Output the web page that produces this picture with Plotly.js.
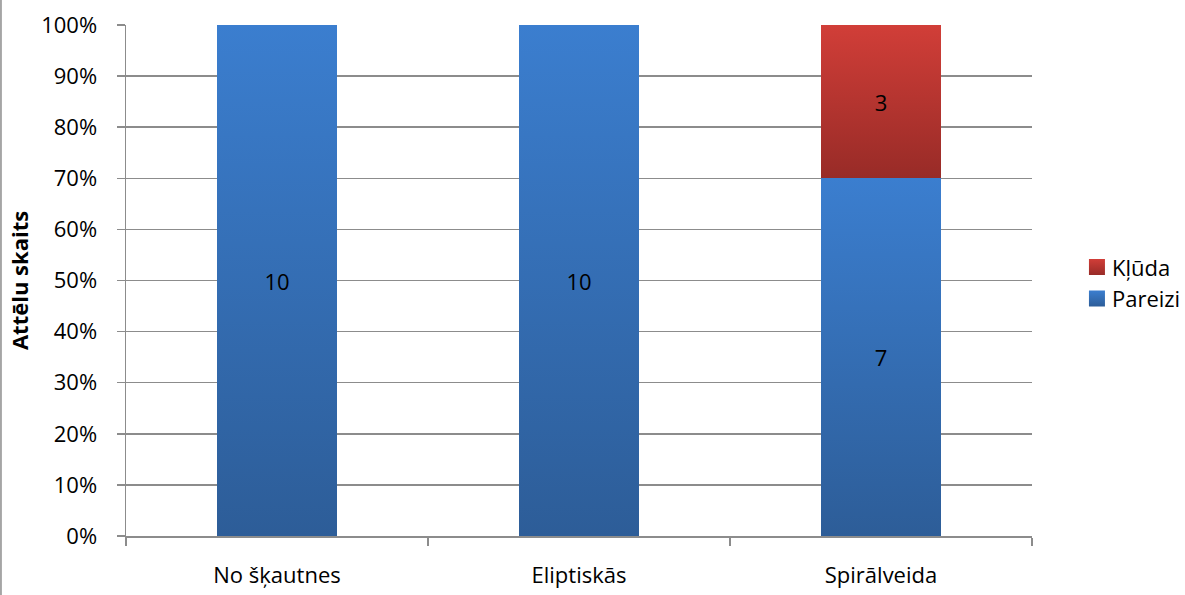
<!DOCTYPE html>
<html>
<head>
<meta charset="utf-8">
<script src="https://cdn.plot.ly/plotly-3.0.1.min.js"></script>
<style>
html,body{margin:0;padding:0;background:#fff;}
#chart{width:1185px;height:595px;}
</style>
</head>
<body>
<div id="chart"></div>
<script>
const categories = ["No šķautnes", "Eliptiskās", "Spirālveida"];
const pareizi = [10, 10, 7];
const kluda = [0, 0, 3];
const seriesNames = ["Pareizi", "Kļūda"];

const labelOf = v => v > 0 ? String(v) : "";
const font = "'Open Sans', sans-serif";
const fs = 22;

const traces = [
  {
    type: "bar", name: seriesNames[0], x: categories, y: pareizi,
    text: pareizi.map(labelOf), textposition: "inside", insidetextanchor: "middle",
    textfont: {family: font, size: fs, color: "#000"},
    marker: {color: "#3470b9", line: {width: 0}},
    hoverinfo: "none"
  },
  {
    type: "bar", name: seriesNames[1], x: categories, y: kluda,
    text: kluda.map(labelOf), textposition: "inside", insidetextanchor: "middle",
    textfont: {family: font, size: fs, color: "#000"},
    marker: {color: "#b73532", line: {width: 0}},
    hoverinfo: "none"
  }
];

const layout = {
  width: 1185, height: 595,
  margin: {l: 126, r: 153, t: 25, b: 59},
  paper_bgcolor: "#fff", plot_bgcolor: "#fff",
  barmode: "stack", barnorm: "percent", bargap: 0.6,
  font: {family: font, size: fs, color: "#000"},
  showlegend: true,
  legend: {xref: "container", yref: "container", x: 0.9046, xanchor: "left", y: 0.524, yanchor: "middle",
           traceorder: "reversed",
           font: {family: font, size: fs, color: "#000"}, itemwidth: 30, tracegroupgap: 0,
           bgcolor: "rgba(0,0,0,0)"},
  xaxis: {
    type: "category", tickson: "boundaries", ticks: "outside", ticklen: 8, tickwidth: 1.5,
    tickcolor: "#8c8c8c", showgrid: false, showline: true, linecolor: "#8c8c8c", linewidth: 1.5,
    tickfont: {family: font, size: fs, color: "#000"}, ticklabelstandoff: 19, automargin: false
  },
  yaxis: {
    range: [0, 100], tickmode: "linear", tick0: 0, dtick: 10, ticksuffix: "%", showticksuffix: "all",
    ticks: "outside", ticklen: 8,
    tickwidth: 1.5, tickcolor: "#8c8c8c", showgrid: true, gridcolor: "#8c8c8c", gridwidth: 1.5,
    showline: true, linecolor: "#8c8c8c", linewidth: 1.5, zeroline: false,
    tickfont: {family: font, size: fs, color: "#000"}, ticklabelstandoff: 15, automargin: false,
    title: {text: "Attēlu skaits", font: {family: font, size: 22, color: "#000", weight: "bold"}, standoff: 6}
  },
  shapes: [
    {type: "line", xref: "paper", yref: "paper", x0: -0.1380, x1: -0.1380, y0: -0.2, y1: 1.1,
     line: {color: "#8c8c8c", width: 1.5}}
  ]
};

function addGradients(gd) {
  const svg = gd.querySelector("svg.main-svg");
  if (!svg) return;
  let defs = svg.querySelector("defs");
  if (!defs) { defs = document.createElementNS("http://www.w3.org/2000/svg", "defs"); svg.insertBefore(defs, svg.firstChild); }
  const grads = {
    gBlue: ["#3b7ecf", "#2d5d98"],
    gRed: ["#d13e38", "#982b27"]
  };
  for (const id in grads) {
    if (svg.querySelector("#" + id)) continue;
    const lg = document.createElementNS("http://www.w3.org/2000/svg", "linearGradient");
    lg.setAttribute("id", id); lg.setAttribute("x1", "0"); lg.setAttribute("y1", "0");
    lg.setAttribute("x2", "0"); lg.setAttribute("y2", "1");
    grads[id].forEach((c, i) => {
      const s = document.createElementNS("http://www.w3.org/2000/svg", "stop");
      s.setAttribute("offset", i ? "1" : "0"); s.setAttribute("stop-color", c);
      lg.appendChild(s);
    });
    defs.appendChild(lg);
  }
  const traceGroups = gd.querySelectorAll(".barlayer .trace");
  traceGroups.forEach((g, i) => {
    const id = i === 0 ? "gBlue" : "gRed";
    g.querySelectorAll(".point path").forEach(p => { p.style.fill = "url(#" + id + ")"; });
  });
  const legendTraces = gd.querySelectorAll(".legend .traces");
  legendTraces.forEach(t => {
    const txt = t.querySelector(".legendtext");
    const name = txt ? txt.textContent : "";
    const id = name === seriesNames[0] ? "gBlue" : "gRed";
    t.querySelectorAll(".legendpoints path").forEach(p => {
      p.style.fill = "url(#" + id + ")";
      p.setAttribute("d", "M13,-8H-3V8H13Z");
    });
  });
}

Plotly.newPlot("chart", traces, layout, {staticPlot: true}).then(gd => {
  addGradients(gd);
  gd.on("plotly_afterplot", () => addGradients(gd));
});
</script>
</body>
</html>
